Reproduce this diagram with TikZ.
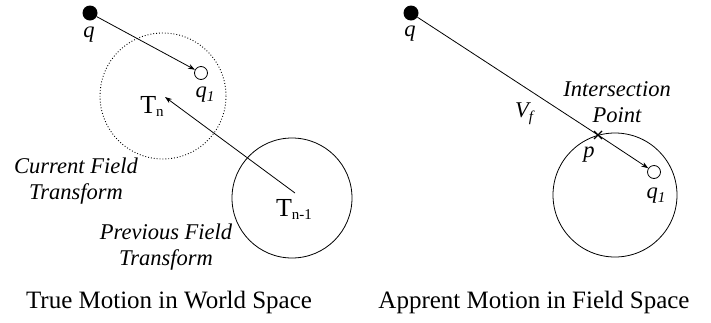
\documentclass[tikz,border=0pt]{standalone}
\usepackage{fontspec}
\setmainfont{Liberation Serif}
\usetikzlibrary{arrows.meta,calc}
\newcommand{\mysub}[1]{\raisebox{-4pt}{\fontsize{15}{16}\selectfont #1}}
\begin{document}
\begin{tikzpicture}[x=1pt,y=-1pt,
  ln/.style={line width=0.8pt},
  arr/.style={ln,-{Stealth[length=7pt,width=5pt]}},
  fdot/.style={circle,fill=black,inner sep=0pt,minimum size=15pt},
  odot/.style={circle,draw,line width=0.8pt,fill=white,inner sep=0pt,minimum size=13pt},
  ital/.style={font=\fontsize{22.5}{26}\selectfont\itshape,align=center,inner sep=0pt},
  rom/.style={font=\fontsize{26}{28}\selectfont,inner sep=0pt},
  ttl/.style={font=\fontsize{25}{28}\selectfont,inner sep=0pt}]
\useasboundingbox (0,0) rectangle (711,322);
% ---- left panel ----
\draw[line width=0.9pt,dash pattern=on 0.9pt off 2pt] (163,96) circle (63);
\draw[ln] (292,198) circle (60);
\node[fdot] (qL) at (90,13) {};
\node[odot] (q1L) at (201,73) {};
\node[ital] (qLlab) at (89,35) {q};
\node[ital] (q1Llab) at (205,95) {q\mysub{1}};
\node[rom] (Tn) at (152,106) {T\raisebox{-3pt}{\fontsize{15}{16}\selectfont n}};
\node[rom] (Tp) at (294,209) {T\raisebox{-3pt}{\fontsize{15}{16}\selectfont n-1}};
\coordinate (Tptail) at (295,193);
\coordinate (Tnhead) at (165,97);
\draw[arr] (qL) -- (q1L);
\draw[arr] (Tptail) -- (Tnhead);
\node[ital] (cur) at (76,181) {Current Field\\Transform};
\node[ital] (prev) at (166,247) {Previous Field\\Transform};
\node[ttl] (t1) at (169,302) {True Motion in World Space};
% ---- right panel ----
\draw[ln] (615,195) circle (62);
\node[fdot] (qR) at (411,13) {};
\node[odot] (q1R) at (654,172) {};
\node[ital] (qRlab) at (410,34) {q};
\node[ital] (q1Rlab) at (656,196) {q\mysub{1}};
\coordinate (p) at (598,135);
\draw[ln] (qR) -- (p);
\draw[arr] (p) -- (q1R);
\draw[line width=1.2pt] ($(p)+(-4,-4)$) -- ($(p)+(4,4)$) ($(p)+(-4,4)$) -- ($(p)+(4,-4)$);
\node[ital] (plab) at (589,155) {p};
\node[ital] (vf) at (524,114) {V\mysub{f}};
\node[ital] (isec) at (617,102) {Intersection\\Point};
\node[ttl] (t2) at (534,302) {Apprent Motion in Field Space};
\end{tikzpicture}
\end{document}
